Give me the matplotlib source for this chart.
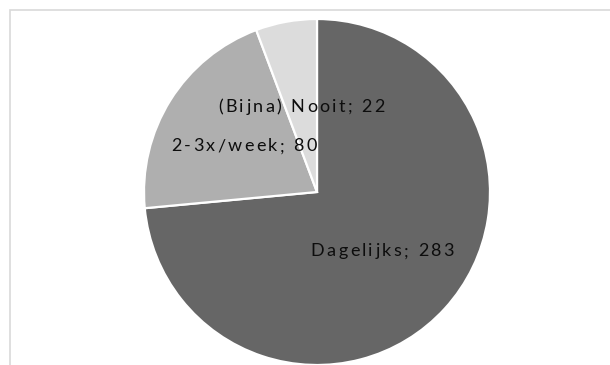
import numpy as np
import matplotlib.pyplot as plt
from matplotlib.patches import Rectangle
from matplotlib.transforms import offset_copy

categories = ['Dagelijks', '2-3x/week', '(Bijna) Nooit']
counts = [283, 80, 22]
colors = ['#666666', '#afafaf', '#dcdcdc']
label_dist = [0.51, 0.5, 0.5]

plt.rcParams['font.family'] = ['Lato', 'DejaVu Sans']

fig = plt.figure(figsize=(6.1, 3.65), dpi=100)

# chart area border (only top and left visible)
fig.patches.append(Rectangle((10 / 610, -0.1), 1.1, 1 - 10 / 365 + 0.1,
                             transform=fig.transFigure, fill=False,
                             edgecolor='#d9d9d9', linewidth=1.2))

ax = fig.add_axes([(317 - 173) / 610, (365 - 192 - 173) / 365, 346 / 610, 346 / 365])
wedges, _ = ax.pie(counts, colors=colors, startangle=90, counterclock=False,
                   wedgeprops=dict(edgecolor='white', linewidth=1.6))
ax.set_xlim(-1, 1)
ax.set_ylim(-1, 1)
ax.set_aspect('equal')

renderer = fig.canvas.get_renderer()


def spaced_text(x, y, s, spacing=2.4, **kw):
    # draw char by char so the label gets a bit of tracking
    widths = []
    for ch in s:
        t = ax.text(0, 0, ch.replace(' ', '\u00a0'), **kw)
        widths.append(t.get_window_extent(renderer).width if ch != ' ' else None)
        t.remove()
    space_w = 4.5
    widths = [w if w is not None else space_w for w in widths]
    total = sum(widths) + spacing * (len(s) - 1)
    dx = -total / 2
    for ch, w in zip(s, widths):
        if ch != ' ':
            tr = offset_copy(ax.transData, fig=fig, x=dx, y=0, units='dots')
            ax.text(x, y, ch, transform=tr, ha='left', va='center', **kw)
        dx += w + spacing


for w, cat, n, d in zip(wedges, categories, counts, label_dist):
    mid = np.deg2rad((w.theta1 + w.theta2) / 2)
    spaced_text(d * np.cos(mid), d * np.sin(mid), f'{cat}; {n}',
                fontsize=13, color='#0d0d0d')

fig.savefig('out.png', dpi=100)
